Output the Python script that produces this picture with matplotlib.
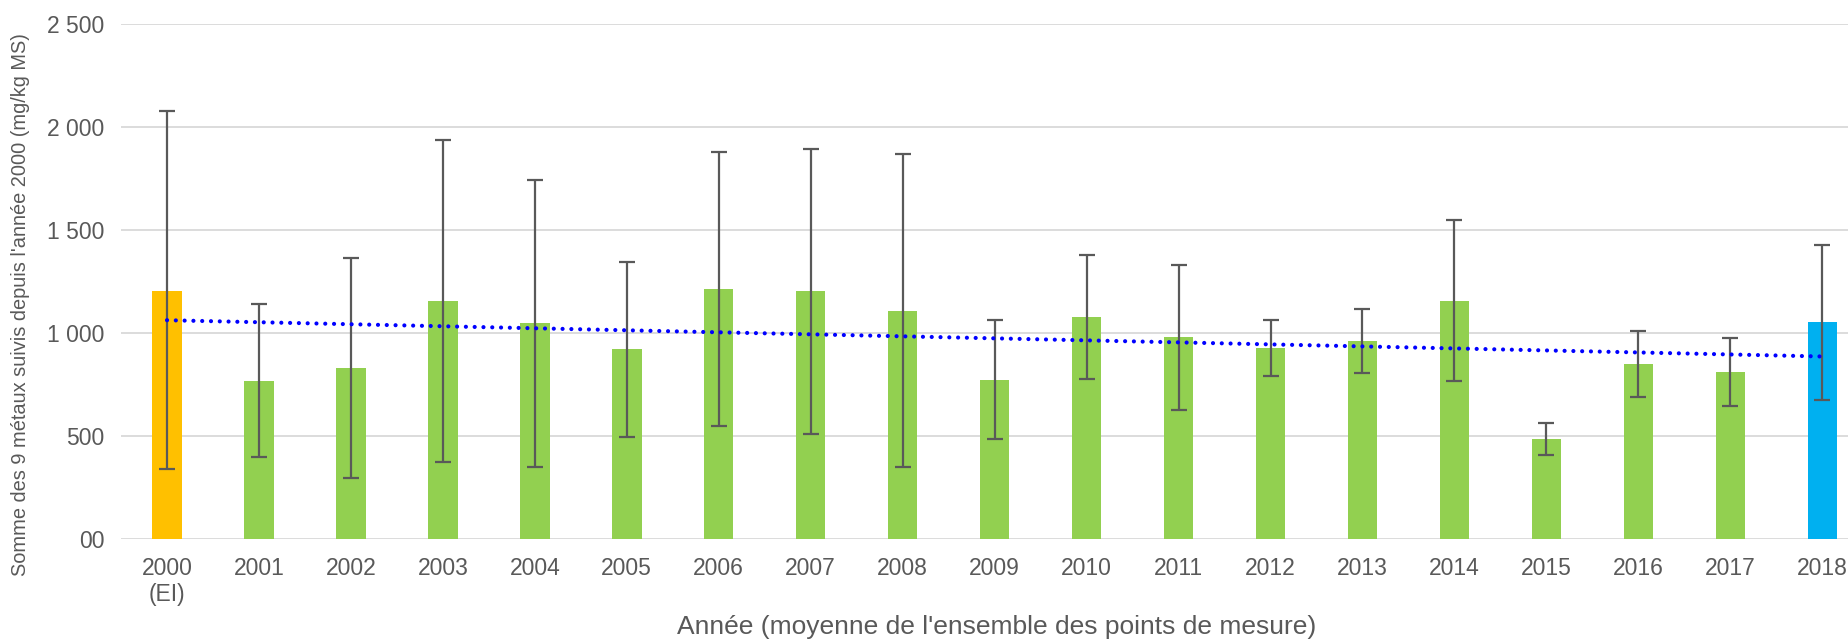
import matplotlib.pyplot as plt
import numpy as np

plt.rcParams['font.family'] = ['Liberation Sans', 'DejaVu Sans']

years = ['2000\n(EI)', '2001', '2002', '2003', '2004', '2005', '2006', '2007', '2008', '2009',
         '2010', '2011', '2012', '2013', '2014', '2015', '2016', '2017', '2018']
moyenne = [1204, 764, 828, 1153, 1045, 919, 1213, 1200, 1107, 770,
           1075, 977, 925, 958, 1153, 484, 846, 807, 1050]
mini = [338, 394, 295, 370, 346, 494, 549, 506, 347, 482,
        773, 627, 792, 805, 763, 404, 688, 643, 674]
maxi = [2076, 1141, 1362, 1935, 1742, 1344, 1878, 1894, 1867, 1060,
        1378, 1330, 1063, 1114, 1547, 563, 1006, 972, 1425]

x = np.arange(len(years))
moyenne = np.array(moyenne)
yerr = [moyenne - np.array(mini), np.array(maxi) - moyenne]

couleurs = ['#FFC000'] + ['#92D050'] * 17 + ['#00B0F0']
gris = '#595959'

fig = plt.figure(figsize=(18.48, 6.42), dpi=100)
ax = fig.add_axes([0.0655, 0.161, 0.9345, 0.802])

ax.bar(x, moyenne, width=0.32, color=couleurs, zorder=2)
ax.errorbar(x, moyenne, yerr=yerr, fmt='none', ecolor=gris, elinewidth=1.6,
            capsize=5.5, capthick=1.6, zorder=3)

# tendance linéaire (courbe de tendance)
a, b = np.polyfit(x, moyenne, 1)
ax.plot(x, a * x + b, color='#0000FF', linewidth=3,
        linestyle=(0, (0.01, 2.1)), dash_capstyle='round', zorder=4)

ax.set_xlim(-0.5, 18.28)
ax.set_ylim(0, 2500)
ax.set_yticks([0, 500, 1000, 1500, 2000, 2500])
ax.set_yticklabels(['00', '500', '1 000', '1 500', '2 000', '2 500'])
ax.set_xticks(x)
ax.set_xticklabels(years)

ax.grid(axis='y', color='#D9D9D9', linewidth=1.3, zorder=0)
ax.set_axisbelow(True)
for s in ax.spines.values():
    s.set_visible(False)
ax.tick_params(axis='both', length=0, labelsize=16.5, labelcolor=gris)
ax.tick_params(axis='y', pad=12)
ax.tick_params(axis='x', pad=13)

ax.set_xlabel("Année (moyenne de l'ensemble des points de mesure)", fontsize=19, color=gris)
ax.xaxis.set_label_coords(0.507, -0.148)
ax.set_ylabel("Somme des 9 métaux suivis depuis l'année 2000 (mg/kg MS)", fontsize=14.4, color=gris)
ax.yaxis.set_label_coords(-0.053, 0.455)

fig.savefig('out.png', dpi=100)
